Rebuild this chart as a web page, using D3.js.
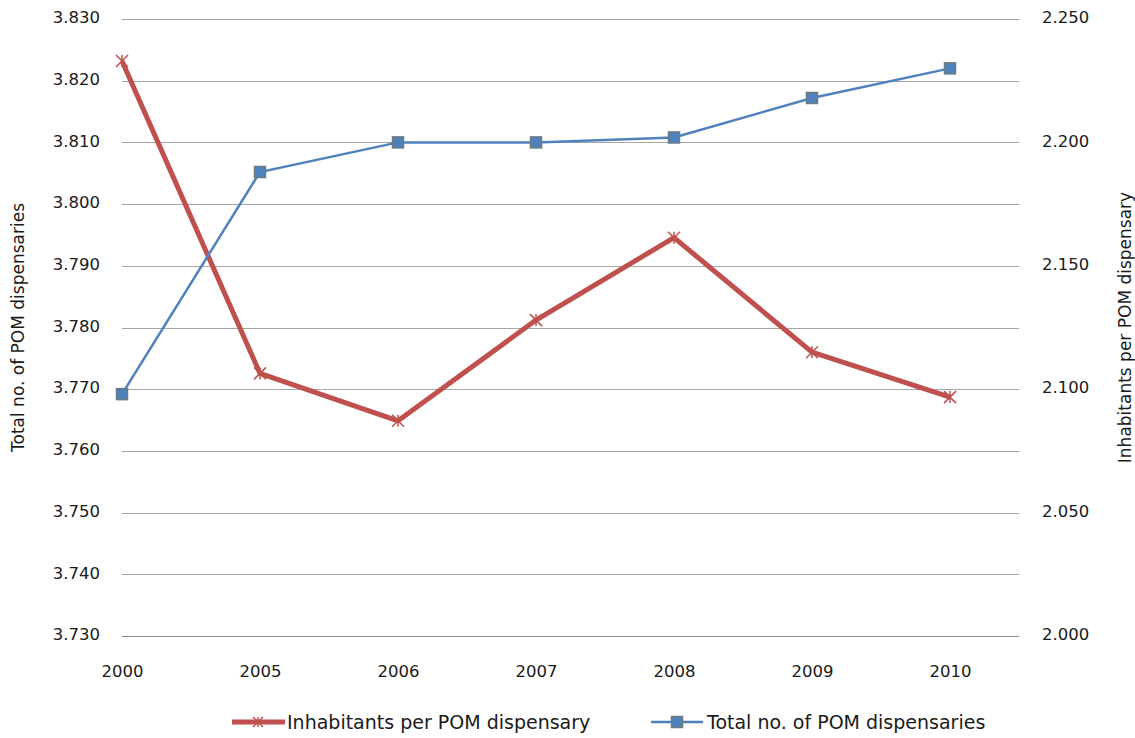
<!DOCTYPE html>
<html>
<head>
<meta charset="utf-8">
<script src="https://cdn.jsdelivr.net/npm/d3@7"></script>
<style>
  body { margin: 0; background: #fff; }
  text { font-family: "DejaVu Sans", sans-serif; fill: #1a1a1a; }
</style>
</head>
<body>
<div id="chart"></div>
<script>
// data
const years = ["2000", "2005", "2006", "2007", "2008", "2009", "2010"];
const totalDispensaries = [3.7692, 3.8052, 3.8100, 3.8100, 3.8108, 3.8172, 3.8220];
const inhabitantsPerDispensary = [2.2330, 2.1064, 2.0872, 2.1280, 2.1614, 2.1150, 2.0968];
const leftTicks = [3.73, 3.74, 3.75, 3.76, 3.77, 3.78, 3.79, 3.80, 3.81, 3.82, 3.83];
const rightTicks = [2.00, 2.05, 2.10, 2.15, 2.20, 2.25];

const W = 1135, H = 738;
const plot = { left: 122, right: 1019, top: 19, bottom: 636 };

const svg = d3.select("#chart").append("svg")
    .attr("width", W)
    .attr("height", H);

const x = d3.scalePoint()
    .domain(years)
    .range([plot.left, 950]);

const yL = d3.scaleLinear().domain([3.73, 3.83]).range([plot.bottom, plot.top]);
const yR = d3.scaleLinear().domain([2.00, 2.25]).range([plot.bottom, plot.top]);

const fmt = d3.format(".3f");

// gridlines (from left axis)
svg.append("g")
    .selectAll("line")
    .data(leftTicks)
    .join("line")
    .attr("x1", plot.left)
    .attr("x2", plot.right)
    .attr("y1", d => Math.round(yL(d)) + 0.5)
    .attr("y2", d => Math.round(yL(d)) + 0.5)
    .attr("stroke", d => d === 3.73 ? "#8c8c8c" : "#a6a6a6")
    .attr("stroke-width", 1.2);

// left axis
const axL = svg.append("g")
    .attr("transform", `translate(${plot.left - 22},-1.5)`)
    .call(d3.axisLeft(yL).tickValues(leftTicks).tickFormat(fmt).tickSize(0).tickPadding(0));
axL.select(".domain").remove();
axL.selectAll("text").attr("font-size", 16.5).attr("font-family", "DejaVu Sans").attr("fill", "#1a1a1a");

// right axis
const axR = svg.append("g")
    .attr("transform", `translate(${plot.right + 23},-1.5)`)
    .call(d3.axisRight(yR).tickValues(rightTicks).tickFormat(fmt).tickSize(0).tickPadding(0));
axR.select(".domain").remove();
axR.selectAll("text").attr("font-size", 16.5).attr("font-family", "DejaVu Sans").attr("fill", "#1a1a1a");

// x axis
const axX = svg.append("g")
    .attr("transform", `translate(0,${plot.bottom + 29})`)
    .call(d3.axisBottom(x).tickSize(0).tickPadding(0));
axX.select(".domain").remove();
axX.selectAll("text").attr("font-size", 16.5).attr("font-family", "DejaVu Sans").attr("fill", "#1a1a1a");

// axis titles
svg.append("text")
    .attr("transform", `translate(24,${(plot.top + plot.bottom) / 2}) rotate(-90)`)
    .attr("text-anchor", "middle")
    .attr("font-size", 17)
    .text("Total no. of POM dispensaries");

svg.append("text")
    .attr("transform", `translate(1131,${(plot.top + plot.bottom) / 2}) rotate(-90)`)
    .attr("text-anchor", "middle")
    .attr("font-size", 17)
    .text("Inhabitants per POM dispensary");

const red = "#c0504d", blue = "#4f81bd";

// red series (right axis)
const lineR = d3.line().x((d, i) => x(years[i])).y(d => yR(d));
svg.append("path")
    .datum(inhabitantsPerDispensary)
    .attr("fill", "none")
    .attr("stroke", red)
    .attr("stroke-width", 5)
    .attr("stroke-linejoin", "round")
    .attr("d", lineR);

function star(g, cx, cy, s) {
    g.append("path")
        .attr("d", `M${cx - s},${cy - s}L${cx + s},${cy + s}M${cx - s},${cy + s}L${cx + s},${cy - s}M${cx},${cy - s}L${cx},${cy + s}`)
        .attr("stroke", red)
        .attr("stroke-width", 1.5)
        .attr("fill", "none");
}
const gStars = svg.append("g");
inhabitantsPerDispensary.forEach((d, i) => star(gStars, x(years[i]), yR(d), 6));

// blue series (left axis)
const lineL = d3.line().x((d, i) => x(years[i])).y(d => yL(d));
svg.append("path")
    .datum(totalDispensaries)
    .attr("fill", "none")
    .attr("stroke", blue)
    .attr("stroke-width", 2.5)
    .attr("d", lineL);

svg.append("g")
    .selectAll("rect")
    .data(totalDispensaries)
    .join("rect")
    .attr("x", (d, i) => x(years[i]) - 5.5)
    .attr("y", d => yL(d) - 5.5)
    .attr("width", 11)
    .attr("height", 11)
    .attr("fill", blue)
    .attr("stroke", "#6b7b80")
    .attr("stroke-width", 1.5);

// legend
const lg = svg.append("g");
const ly = 722;
lg.append("line").attr("x1", 232).attr("x2", 285).attr("y1", ly).attr("y2", ly)
    .attr("stroke", red).attr("stroke-width", 5);
star(lg, 258, ly, 5);
lg.append("text").attr("x", 287).attr("y", ly + 7).attr("font-size", 19)
    .text("Inhabitants per POM dispensary");

lg.append("line").attr("x1", 651).attr("x2", 703).attr("y1", ly).attr("y2", ly)
    .attr("stroke", blue).attr("stroke-width", 2.5);
lg.append("rect").attr("x", 671.5).attr("y", ly - 5.5).attr("width", 11).attr("height", 11)
    .attr("fill", blue).attr("stroke", "#6b7b80").attr("stroke-width", 1.5);
lg.append("text").attr("x", 707).attr("y", ly + 7).attr("font-size", 19)
    .text("Total no. of POM dispensaries");
</script>
</body>
</html>
